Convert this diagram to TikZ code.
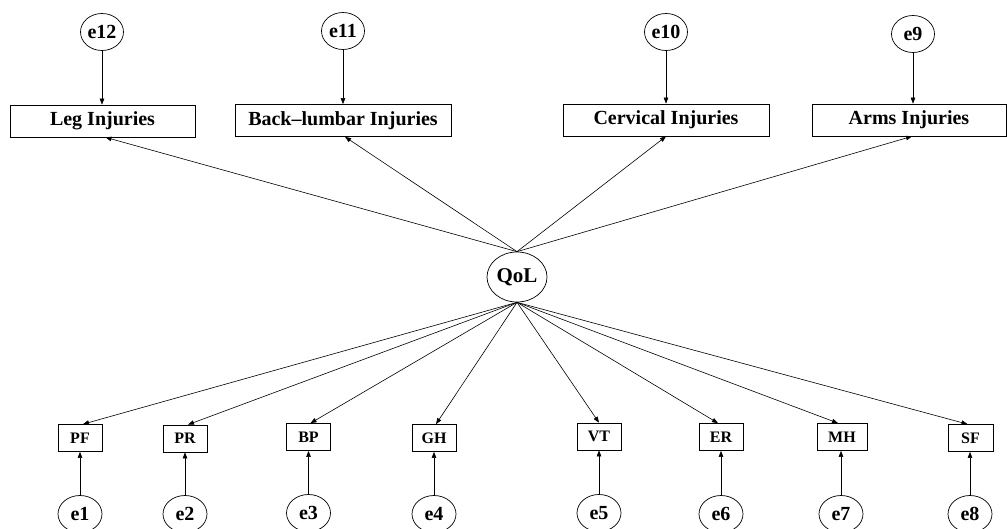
\documentclass[tikz,border=0pt]{standalone}
\usepackage{fontspec}
\setmainfont{Liberation Serif}
\usetikzlibrary{shapes.geometric,arrows.meta}
\begin{document}
\begin{tikzpicture}[x=1pt,y=-1pt,
  lat/.style={draw,ellipse,line width=0.7pt,inner sep=0pt,minimum width=43pt,minimum height=37pt,font=\fontsize{20}{22}\selectfont\bfseries},
  bigbox/.style={draw,rectangle,line width=0.7pt,inner sep=0pt,minimum height=32pt,font=\fontsize{20}{22}\selectfont\bfseries},
  smallbox/.style={draw,rectangle,line width=0.7pt,inner sep=0pt,minimum width=44pt,minimum height=27pt,font=\fontsize{16}{18}\selectfont\bfseries},
  arr/.style={-{Triangle[length=6pt,width=4.5pt]},line width=0.6pt}]
\useasboundingbox (0,0) rectangle (1007,529);
% top
\node[lat] (e12) at (102,32) {e12};
\node[lat] (e11) at (343,31) {e11};
\node[lat] (e10) at (666,32) {e10};
\node[lat] (e9) at (913,34) {e9};
\node[bigbox,minimum width=185pt] (leg) at (102.5,121) {Leg Injuries};
\node[bigbox,minimum width=216pt] (back) at (343,120.5) {Back\textendash lumbar Injuries};
\node[bigbox,minimum width=206pt] (cerv) at (666,120) {Cervical Injuries};
\node[bigbox,minimum width=194pt] (arms) at (909,120) {Arms Injuries};
% center
\node[lat,minimum width=60pt,minimum height=50pt,font=\fontsize{21}{23}\selectfont\bfseries] (qol) at (517,277) {QoL};
% bottom boxes
\node[smallbox] (pf) at (80,438) {PF};
\node[smallbox] (pr) at (185,438.5) {PR};
\node[smallbox] (bp) at (308.5,437) {BP};
\node[smallbox] (gh) at (434,438) {GH};
\node[smallbox] (vt) at (599,436.5) {VT};
\node[smallbox] (er) at (721,437) {ER};
\node[smallbox,minimum width=50pt] (mh) at (842,437) {MH};
\node[smallbox,minimum width=45pt] (sf) at (970.5,438) {SF};
% bottom errors
\node[lat,minimum width=44pt] (e1) at (80,514) {e1};
\node[lat,minimum width=44pt] (e2) at (185,514) {e2};
\node[lat,minimum width=44pt] (e3) at (308.5,513) {e3};
\node[lat,minimum width=44pt] (e4) at (434,514) {e4};
\node[lat,minimum width=44pt] (e5) at (599,513) {e5};
\node[lat,minimum width=44pt] (e6) at (721,514) {e6};
\node[lat,minimum width=44pt] (e7) at (841,514) {e7};
\node[lat,minimum width=44pt] (e8) at (970,514) {e8};
% arrows
\draw[arr] (e12) -- (e12 |- leg.north);
\draw[arr] (e11) -- (e11 |- back.north);
\draw[arr] (e10) -- (e10 |- cerv.north);
\draw[arr] (e9) -- (e9 |- arms.north);
\draw[arr] (qol.north) -- ([xshift=3pt]leg.south);
\draw[arr] (qol.north) -- ([xshift=2pt]back.south);
\draw[arr] (qol.north) -- (cerv.south);
\draw[arr] (qol.north) -- ([xshift=3pt]arms.south);
\draw[arr] (qol.south) -- ([xshift=3pt]pf.north);
\draw[arr] (qol.south) -- ([xshift=3pt]pr.north);
\draw[arr] (qol.south) -- ([xshift=2pt]bp.north);
\draw[arr] (qol.south) -- ([xshift=2pt]gh.north);
\draw[arr] (qol.south) -- (vt.north);
\draw[arr] (qol.south) -- ([xshift=-3pt]er.north);
\draw[arr] (qol.south) -- ([xshift=-4pt]mh.north);
\draw[arr] (qol.south) -- ([xshift=-3pt]sf.north);
\draw[arr] (e1) -- (e1 |- pf.south);
\draw[arr] (e2) -- (e2 |- pr.south);
\draw[arr] (e3) -- (e3 |- bp.south);
\draw[arr] (e4) -- (e4 |- gh.south);
\draw[arr] (e5) -- (e5 |- vt.south);
\draw[arr] (e6) -- (e6 |- er.south);
\draw[arr] (e7) -- (e7 |- mh.south);
\draw[arr] (e8) -- (e8 |- sf.south);
\end{tikzpicture}
\end{document}
